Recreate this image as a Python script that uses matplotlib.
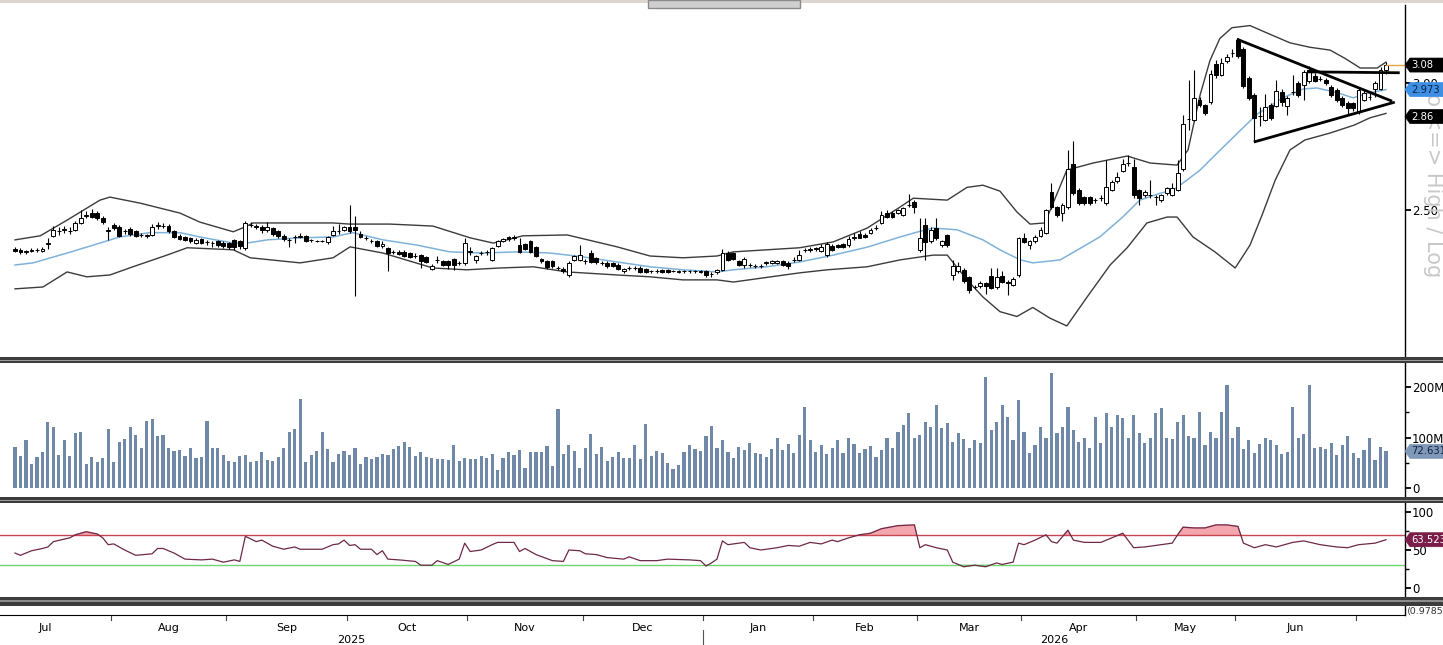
import numpy as np
import matplotlib
matplotlib.use('Agg')
import matplotlib.pyplot as plt
from matplotlib.patches import Rectangle, Polygon
from matplotlib.lines import Line2D
import matplotlib.transforms as mtransforms

plt.rcParams['font.family'] = ['Liberation Sans Narrow', 'DejaVu Sans']

# ---------------- data ----------------
opens = [2.365,2.362,2.352,2.356,2.360,2.358,2.382,2.410,2.425,2.430,2.425,2.430,2.455,2.478,2.490,2.488,2.470,2.425,2.447,2.440,
         2.425,2.432,2.425,2.412,2.408,2.412,2.445,2.445,2.445,2.425,2.410,2.405,2.402,2.385,2.397,2.387,2.384,2.390,2.385,2.385,
         2.393,2.390,2.368,2.447,2.442,2.440,2.428,2.435,2.425,2.410,2.395,2.405,2.405,2.408,2.393,2.392,2.392,2.388,2.412,2.425,
         2.430,2.440,2.440,2.415,2.402,2.392,2.390,2.373,2.367,2.353,2.355,2.355,2.350,2.340,2.342,2.335,2.297,2.327,2.322,2.322,
         2.330,2.316,2.317,2.355,2.325,2.350,2.352,2.327,2.375,2.390,2.405,2.405,2.377,2.380,2.390,2.370,2.330,2.322,2.322,2.300,
         2.298,2.278,2.327,2.327,2.322,2.350,2.333,2.317,2.317,2.317,2.310,2.290,2.300,2.300,2.300,2.297,2.289,2.290,2.293,2.293,
         2.290,2.287,2.289,2.289,2.289,2.288,2.290,2.280,2.287,2.295,2.350,2.350,2.322,2.310,2.310,2.307,2.305,2.315,2.316,2.318,
         2.322,2.318,2.327,2.327,2.360,2.362,2.365,2.357,2.342,2.375,2.378,2.380,2.377,2.403,2.415,2.413,2.420,2.437,2.455,2.490,
         2.488,2.490,2.482,2.518,2.530,2.360,2.447,2.390,2.437,2.378,2.412,2.277,2.290,2.294,2.270,2.238,2.242,2.250,2.275,2.238,
         2.275,2.255,2.245,2.277,2.402,2.377,2.390,2.410,2.420,2.566,2.510,2.490,2.510,2.670,2.573,2.547,2.547,2.536,2.543,2.525,
         2.573,2.605,2.645,2.675,2.660,2.573,2.554,2.554,2.547,2.536,2.562,2.556,2.573,2.652,2.850,2.846,2.929,2.908,2.920,3.085,
         3.036,3.100,3.133,3.193,3.150,3.022,2.950,2.862,2.846,2.908,2.904,2.964,2.905,2.963,3.000,2.993,3.010,3.030,3.020,3.014,
         2.985,2.972,2.938,2.917,2.917,2.880,2.930,2.942,2.976,2.976,3.056]
highs = [2.370,2.366,2.362,2.366,2.366,2.370,2.400,2.445,2.440,2.445,2.440,2.462,2.500,2.498,2.505,2.495,2.480,2.440,2.455,2.448,
         2.433,2.438,2.430,2.418,2.416,2.450,2.458,2.455,2.450,2.430,2.415,2.410,2.406,2.400,2.402,2.396,2.392,2.394,2.390,2.388,
         2.397,2.395,2.462,2.458,2.452,2.446,2.458,2.440,2.430,2.415,2.402,2.412,2.418,2.412,2.398,2.396,2.396,2.410,2.445,2.450,
         2.445,2.520,2.480,2.425,2.410,2.398,2.395,2.390,2.372,2.360,2.360,2.360,2.355,2.350,2.346,2.340,2.312,2.340,2.328,2.326,
         2.334,2.322,2.400,2.372,2.345,2.358,2.360,2.372,2.395,2.402,2.410,2.412,2.402,2.384,2.394,2.375,2.334,2.326,2.326,2.306,
         2.302,2.322,2.345,2.377,2.330,2.360,2.338,2.324,2.322,2.321,2.316,2.300,2.308,2.306,2.305,2.301,2.295,2.296,2.297,2.296,
         2.295,2.295,2.294,2.293,2.293,2.292,2.294,2.286,2.298,2.365,2.356,2.354,2.326,2.335,2.316,2.314,2.312,2.324,2.326,2.328,
         2.326,2.322,2.335,2.360,2.368,2.370,2.372,2.380,2.388,2.380,2.382,2.385,2.410,2.418,2.425,2.418,2.435,2.448,2.495,2.500,
         2.495,2.505,2.510,2.560,2.535,2.470,2.470,2.440,2.470,2.395,2.416,2.327,2.320,2.300,2.275,2.245,2.256,2.254,2.300,2.300,
         2.290,2.262,2.270,2.405,2.420,2.395,2.412,2.440,2.505,2.598,2.515,2.525,2.726,2.760,2.580,2.552,2.552,2.545,2.556,2.686,
         2.610,2.640,2.690,2.706,2.690,2.578,2.572,2.610,2.556,2.560,2.586,2.600,2.686,2.866,3.014,3.060,2.940,2.914,3.058,3.102,
         3.110,3.130,3.150,3.200,3.160,3.030,2.960,2.900,2.955,2.918,3.014,2.975,2.945,3.036,3.010,3.060,3.075,3.045,3.032,3.025,
         2.995,2.980,2.945,2.925,2.922,2.985,2.975,2.960,3.010,3.070,3.095]
lows = [2.352,2.348,2.348,2.352,2.354,2.354,2.365,2.405,2.412,2.420,2.415,2.425,2.450,2.470,2.470,2.465,2.450,2.395,2.430,2.405,
        2.415,2.410,2.405,2.405,2.402,2.408,2.432,2.435,2.420,2.400,2.393,2.390,2.385,2.380,2.380,2.378,2.372,2.372,2.368,2.365,
        2.362,2.365,2.360,2.440,2.432,2.420,2.422,2.408,2.402,2.390,2.372,2.385,2.400,2.386,2.388,2.387,2.386,2.382,2.408,2.415,
        2.425,2.420,2.210,2.400,2.395,2.385,2.370,2.368,2.290,2.346,2.344,2.336,2.333,2.332,2.300,2.315,2.292,2.318,2.305,2.298,
        2.295,2.310,2.310,2.345,2.318,2.342,2.345,2.322,2.370,2.386,2.392,2.396,2.350,2.360,2.350,2.336,2.318,2.296,2.300,2.292,
        2.285,2.272,2.322,2.322,2.314,2.315,2.314,2.310,2.300,2.302,2.292,2.285,2.292,2.294,2.284,2.284,2.284,2.285,2.285,2.285,
        2.286,2.284,2.285,2.285,2.285,2.283,2.270,2.272,2.280,2.290,2.322,2.326,2.305,2.300,2.302,2.300,2.300,2.310,2.312,2.314,
        2.305,2.298,2.320,2.322,2.352,2.355,2.358,2.352,2.338,2.358,2.366,2.368,2.372,2.396,2.400,2.400,2.415,2.430,2.450,2.470,
        2.470,2.486,2.478,2.510,2.490,2.355,2.327,2.385,2.395,2.372,2.372,2.261,2.282,2.250,2.220,2.230,2.236,2.215,2.230,2.232,
        2.250,2.212,2.240,2.270,2.384,2.365,2.385,2.405,2.415,2.505,2.476,2.460,2.505,2.556,2.520,2.520,2.520,2.525,2.532,2.520,
        2.568,2.600,2.640,2.665,2.545,2.520,2.548,2.545,2.518,2.530,2.556,2.550,2.568,2.645,2.805,2.840,2.900,2.866,2.912,3.025,
        3.030,3.090,3.115,3.110,2.980,2.930,2.760,2.820,2.840,2.845,2.898,2.905,2.866,2.950,2.940,2.929,3.000,3.005,3.008,2.995,
        2.940,2.920,2.900,2.866,2.885,2.870,2.925,2.930,2.940,2.970,3.040]
closes = [2.358,2.352,2.358,2.362,2.360,2.365,2.385,2.430,2.425,2.432,2.426,2.453,2.470,2.482,2.476,2.472,2.458,2.428,2.437,2.410,
          2.427,2.415,2.410,2.412,2.412,2.440,2.447,2.444,2.425,2.405,2.398,2.395,2.390,2.395,2.385,2.387,2.384,2.378,2.375,2.372,
          2.370,2.375,2.455,2.447,2.440,2.428,2.440,2.414,2.410,2.397,2.395,2.405,2.410,2.390,2.393,2.392,2.392,2.405,2.425,2.425,
          2.440,2.425,2.428,2.405,2.402,2.392,2.375,2.380,2.350,2.353,2.348,2.340,2.338,2.340,2.322,2.320,2.308,2.327,2.311,2.310,
          2.310,2.316,2.385,2.355,2.340,2.350,2.352,2.367,2.390,2.398,2.397,2.400,2.355,2.365,2.355,2.340,2.322,2.302,2.305,2.300,
          2.290,2.316,2.340,2.345,2.322,2.320,2.320,2.317,2.305,2.306,2.298,2.296,2.300,2.300,2.288,2.288,2.289,2.290,2.288,2.288,
          2.290,2.291,2.289,2.289,2.289,2.288,2.278,2.280,2.295,2.350,2.328,2.330,2.310,2.330,2.310,2.307,2.305,2.320,2.322,2.324,
          2.310,2.305,2.327,2.343,2.360,2.362,2.365,2.372,2.380,2.362,2.370,2.372,2.398,2.403,2.403,2.405,2.430,2.437,2.482,2.476,
          2.476,2.500,2.507,2.518,2.510,2.403,2.388,2.430,2.402,2.390,2.378,2.305,2.305,2.258,2.228,2.238,2.250,2.242,2.235,2.272,
          2.255,2.250,2.265,2.400,2.388,2.390,2.405,2.430,2.500,2.510,2.482,2.518,2.652,2.562,2.525,2.525,2.525,2.536,2.543,2.583,
          2.602,2.622,2.670,2.675,2.554,2.543,2.566,2.554,2.547,2.554,2.580,2.580,2.636,2.830,2.850,2.938,2.908,2.875,3.040,3.036,
          3.090,3.115,3.133,3.120,2.990,2.938,2.855,2.862,2.900,2.855,2.968,2.920,2.938,2.963,2.950,3.050,3.058,3.010,3.020,3.000,
          2.950,2.929,2.908,2.896,2.896,2.972,2.960,2.942,3.000,3.060,3.080]

volume_m = [82,63,96,48,61,71,130,121,66,96,63,108,110,48,61,51,60,116,51,92,
            97,121,104,79,133,136,102,104,80,73,75,63,80,60,61,133,79,80,65,54,
            51,63,65,51,53,71,55,53,61,79,111,117,177,51,65,73,111,77,51,68,
            74,66,80,48,61,57,61,68,65,77,84,92,82,63,71,61,60,58,58,55,
            85,53,60,58,58,63,60,68,36,60,71,65,75,39,71,71,71,84,44,157,
            68,86,74,39,79,106,68,82,54,61,71,60,60,86,58,126,63,74,69,50,
            37,46,71,85,77,74,102,123,80,95,72,60,82,75,90,70,68,62,78,100,
            75,88,70,104,160,95,72,85,68,80,95,70,100,88,70,78,84,62,75,100,
            80,110,125,148,100,105,130,120,165,118,128,92,108,98,80,96,90,220,115,130,
            165,140,95,175,110,70,85,120,100,228,108,120,160,115,92,100,80,140,90,148,
            120,145,138,100,145,108,90,100,148,158,100,98,130,145,102,100,150,85,110,100,
            150,204,100,120,78,95,70,88,100,95,85,68,72,160,100,106,204,80,82,78,
            90,65,85,102,70,60,75,100,55,82,72.631]

# Bollinger bands / 20-day average: (candle index, price)
bb_upper_idx = [0,4.6,9.5,15.5,17.3,22.8,30.1,33.7,39.8,42.3,43.4,52,58,61,68.4,76.2,83,87.2,89.7,92.6,
                100.7,109.8,115.8,121.8,128,131,137.1,143.1,149.2,155.4,161.4,163.8,170,173.6,176.5,179.6,182.7,185.1,187.8,191.8,
                196.6,202.8,207,211.9,213.9,216.1,217.9,219.7,221.9,225.2,228.8,232.5,236.1,239.8,242.5,245.3,248.4,250]
bb_upper = [2.395,2.409,2.464,2.536,2.547,2.525,2.489,2.457,2.423,2.443,2.454,2.454,2.454,2.450,2.450,2.443,2.402,2.384,2.395,2.409,
            2.412,2.371,2.340,2.334,2.340,2.354,2.361,2.368,2.388,2.436,2.511,2.543,2.536,2.583,2.591,2.569,2.493,2.450,2.454,2.648,
            2.675,2.702,2.675,2.667,2.726,2.950,3.100,3.200,3.250,3.260,3.220,3.180,3.160,3.147,3.110,3.067,3.067,3.093]
bb_mid_idx = [0,3.3,9.5,15.5,19.1,24.6,30.1,33.7,39.8,42.3,46,52,58,61.6,67.1,73.3,79.3,85.3,91.5,97.6,
              103.6,109.8,115.8,121.8,128,131,137.1,143.1,149.2,155.4,161.4,164.5,167.4,171.8,176.5,179.6,183.3,185.6,190.6,194.7,
              197.8,202,205.1,208.8,211.2,213.7,216.1,217.9,222.8,226.5,231.2,234.9,237.4,241.1,244,247.1,250]
bb_mid = [2.310,2.317,2.350,2.384,2.405,2.420,2.420,2.405,2.384,2.384,2.395,2.402,2.405,2.420,2.395,2.377,2.354,2.350,2.354,2.350,
          2.337,2.320,2.304,2.294,2.287,2.294,2.304,2.320,2.343,2.370,2.405,2.422,2.436,2.430,2.395,2.361,2.327,2.317,2.327,2.371,
          2.405,2.475,2.536,2.561,2.573,2.610,2.648,2.686,2.790,2.870,2.938,2.976,2.980,2.960,2.938,2.960,2.973]
bb_lower_idx = [0,5.1,9.5,13.1,17.3,21.5,27.7,31.4,39.8,42.9,52,58,61.1,67.1,76.2,82.4,88.4,94.5,100.7,109.8,
                115.8,121.8,128,131,143.1,148.1,155.4,161.4,167.4,170,173.6,176.5,179.6,182.7,185.6,188.7,191.8,195.5,199.7,202.8,
                206.4,210.1,211.9,214.8,218.8,222.5,225.2,227.4,229.8,232.5,235.2,239.8,244.2,247.1,250]
bb_lower = [2.232,2.238,2.287,2.271,2.277,2.304,2.343,2.368,2.361,2.334,2.317,2.334,2.371,2.350,2.300,2.294,2.300,2.304,2.287,2.277,
            2.271,2.261,2.261,2.254,2.284,2.294,2.304,2.327,2.343,2.343,2.261,2.206,2.160,2.145,2.173,2.140,2.116,2.206,2.310,2.368,
            2.454,2.475,2.475,2.405,2.354,2.300,2.377,2.482,2.610,2.726,2.765,2.793,2.825,2.855,2.873]

# RSI (14): (candle index, value)
rsi_idx = [0,1,3,5,6,7,10,11,13,15,16,17,18,20,22,25,26,27,29,31,34,36,38,40,41,42,44,45,47,49,51,52,56,58,59,60,61,62,63,65,
           66,67,68,70,73,74,76,77,79,81,82,83,85,87,88,91,92,93,95,98,100,101,103,104,106,108,111,112,114,117,119,123,125,126,127,128,129,130,133,134,
           136,139,141,143,145,147,149,150,152,154,156,158,161,164,165,166,168,170,171,173,175,177,179,180,182,183,184,186,188,189,
           190,192,193,195,198,200,202,204,206,209,211,212,213,215,217,219,221,223,224,226,228,230,233,235,238,241,243,245,248,250]
rsi_val = [46,43,49,52,54,61,66,70,74,71,66,57,58,50,43,45,52,52,46,38,37,38,34,37,35,68,61,63,55,51,54,51,51,57,58,63,56,57,51,51,
           44,49,38,37,35,30,30,36,31,38,59,48,50,57,60,60,48,52,44,36,35,50,49,45,44,40,38,41,36,36,38,37,36,29,33,38,62,57,60,53,
           50,53,56,55,60,58,63,61,66,70,72,78,82,83,53,57,53,50,34,28,30,28,33,31,34,59,57,63,70,61,
           59,76,63,60,60,66,72,53,54,57,59,70,80,79,79,83,83,81,59,53,57,54,60,62,57,54,53,57,59,63.523]

# trend lines drawn on the chart: (candle index, price)
tri_upper = [(222.8, 3.197), (251.1, 2.924)]
tri_lower = [(225.9, 2.757), (251.6, 2.920)]
resist = [(235.6, 3.050), (252.5, 3.046)]

month_first = [18, 39, 61, 83, 104, 126, 146, 165, 184, 205, 223, 245]   # first candle of Aug .. Jul
month_names = ['Jul','Aug','Sep','Oct','Nov','Dec','Jan','Feb','Mar','Apr','May','Jun']
years = ['2025', '2026']

last_price = 3.08
ma_last = 2.973
low_band_last = 2.86
vol_last = 72.631
rsi_last = 63.523

# ---------------- figure ----------------
W, H = 1443, 645
fig = plt.figure(figsize=(W/100, H/100), dpi=100)
fig.patch.set_facecolor('white')

def fy(px):
    return 1 - px / H

XL = (0 - 15) / 5.484
XR = (1405 - 15) / 5.484
axw = 1405 / W

ax = fig.add_axes([0, fy(357), axw, (357 - 5) / H])
axv = fig.add_axes([0, fy(497), axw, (497 - 362) / H], sharex=ax)
axr = fig.add_axes([0, fy(597), axw, (597 - 503) / H], sharex=ax)
axb = fig.add_axes([0, fy(615), axw, (615 - 606) / H], sharex=ax)

for a in (ax, axv, axr, axb):
    for s in ('top', 'left', 'bottom'):
        a.spines[s].set_visible(False)
    a.spines['right'].set_color('black')
    a.spines['right'].set_linewidth(1.0)
    a.yaxis.tick_right()
    a.tick_params(axis='x', which='both', bottom=False, labelbottom=False)
    a.tick_params(axis='y', which='both', direction='out', length=4, width=1.3, labelsize=8.5, pad=1, colors='black')
    a.set_facecolor('white')
ax.set_xlim(XL, XR)

o = np.array(opens); h = np.array(highs); l = np.array(lows); c = np.array(closes)
n = len(c)
idx = np.arange(n)

# price panel
ax.set_yscale('log')
ax.set_ylim(2.0235, 3.358)
ax.vlines(idx, l, h, color='black', lw=0.8, zorder=3)
upm = c >= o
blo = np.minimum(o, c)
bh = np.maximum(np.abs(c - o), 0.0006)
ax.bar(idx[upm], bh[upm], bottom=blo[upm], width=0.7, facecolor='white', edgecolor='black', lw=0.7, zorder=4)
ax.bar(idx[~upm], bh[~upm], bottom=blo[~upm], width=0.7, facecolor='black', edgecolor='black', lw=0.7, zorder=4)
ax.plot(bb_upper_idx, bb_upper, color='#3c3c3c', lw=1.0, zorder=2)
ax.plot(bb_lower_idx, bb_lower, color='#3c3c3c', lw=1.0, zorder=2)
ax.plot(bb_mid_idx, bb_mid, color='#7fb2d9', lw=1.1, zorder=2)
for seg in (tri_upper, tri_lower, resist):
    ax.plot([p[0] for p in seg], [p[1] for p in seg], color='black', lw=2.0, zorder=6, solid_capstyle='butt')
ax.plot([n - 1, XR], [last_price, last_price], color='#e0a840', lw=1.0, zorder=5, clip_on=False)
ax.set_yticks([2.5, 3.0])
ax.set_yticklabels(['2.50', '3.00'])
ax.yaxis.set_minor_locator(matplotlib.ticker.NullLocator())

# volume panel
axv.set_ylim(-17.8, 249.5)
axv.bar(idx, volume_m, width=0.58, color='#7189a8', zorder=3)
axv.set_yticks([0, 100, 200])
axv.set_yticklabels(['0', '100M', '200M'])
axv.set_yticks([50, 150], minor=True)
axv.tick_params(axis='y', which='minor', length=3, width=1.0)

# RSI panel
axr.set_ylim(-11.8, 111.8)
axr.axhline(70, color='#c9454f', lw=1.0, zorder=2)
axr.axhline(30, color='#6fd66f', lw=1.0, zorder=2)
ri = np.array(rsi_idx, dtype=float); rv = np.array(rsi_val, dtype=float)
axr.fill_between(ri, rv, 70, where=rv > 70, interpolate=True, color='#f3a6ad', zorder=1)
axr.fill_between(ri, rv, 30, where=rv < 30, interpolate=True, color='#a9e6a9', zorder=1)
axr.plot(ri, rv, color='#6e2848', lw=0.9, zorder=3)
axr.set_yticks([0, 50, 100])
axr.set_yticklabels(['0', '50', '100'])
axr.set_yticks([25, 75], minor=True)
axr.tick_params(axis='y', which='minor', length=3, width=1.0)

# bottom collapsed panel
axb.set_ylim(0, 1)
axb.set_yticks([])
axb.spines['bottom'].set_visible(True)
axb.spines['bottom'].set_color('black')
fig.text(1406 / W, fy(611), '\u27e80.9785', ha='left', va='center', fontsize=6.8, color='#333333')

# value tags on the right axis (pixel-sized arrow boxes)
def tag(a, val, text, fc, tc):
    yd = a.transData.transform((0, val))[1]
    x0, x1, x2 = 1405, 1410, 1443
    hh = 7
    poly = Polygon([[x0, yd], [x1, yd + hh], [x2, yd + hh], [x2, yd - hh], [x1, yd - hh]],
                   closed=True, transform=mtransforms.IdentityTransform(), fc=fc, ec=fc, lw=0.5, zorder=40)
    fig.add_artist(poly)
    fig.text(1411 / W, yd / H, text, ha='left', va='center', fontsize=7.2, color=tc, zorder=41)

tag(ax, last_price, '3.08', 'black', 'white')
tag(ax, ma_last, '2.973', '#3d8fe4', '#0c2340')
tag(ax, low_band_last, '2.86', 'black', 'white')
tag(axv, vol_last, '72.631', '#7f97b9', '#13233a')
tag(axr, rsi_last, '63.523', '#7a1d48', 'white')

# x axis: month boundaries and labels
ticks = [m - 0.5 for m in month_first]
trans = mtransforms.blended_transform_factory(axb.transData, fig.transFigure)
for t in ticks:
    fig.add_artist(Line2D([t, t], [fy(616), fy(620)], transform=trans, color='#444444', lw=0.8))
label_x = [5.5]
for a_, b_ in zip(ticks[:-1], ticks[1:]):
    label_x.append((a_ + b_) / 2)
for xm, nm in zip(label_x, month_names):
    fig.text(xm, fy(628), nm, transform=trans, ha='center', va='center', fontsize=8, color='black')
jan = ticks[5]
fig.add_artist(Line2D([jan, jan], [fy(630), fy(645)], transform=trans, color='#555555', lw=0.8))
fig.text((XL + jan) / 2, fy(640), years[0], transform=trans, ha='center', va='center', fontsize=8, color='black')
fig.text((jan + XR) / 2, fy(640), years[1], transform=trans, ha='center', va='center', fontsize=8, color='black')

# panel separators and frame decorations
def band(y0, y1, color):
    fig.add_artist(Rectangle((0, fy(y1)), 1, (y1 - y0) / H, transform=fig.transFigure, color=color, zorder=30, lw=0))

band(0, 3, '#ddd6d1')
fig.add_artist(Rectangle((648 / W, fy(8)), 152 / W, 8 / H, transform=fig.transFigure, fc='#cfcfcf', ec='#8a8a8a', lw=1.0, zorder=31))
band(357, 359.5, '#3c3c3c'); band(359.5, 360.5, '#9a9a9a'); band(360.5, 362.5, '#3c3c3c')
band(497, 499.5, '#3c3c3c'); band(499.5, 500.5, '#9a9a9a'); band(500.5, 503, '#3c3c3c')
band(597, 600, '#3c3c3c'); band(600, 601.5, '#8c8c8c'); band(601.5, 606, '#3c3c3c')

# vertical caption on the right edge
fig.text(1433 / W, fy(180), 'Lo <=> High / Log', rotation=270, ha='center', va='center', fontsize=15, color='#c8c8c8', zorder=0)

fig.savefig('out.png', dpi=100, facecolor='white')
